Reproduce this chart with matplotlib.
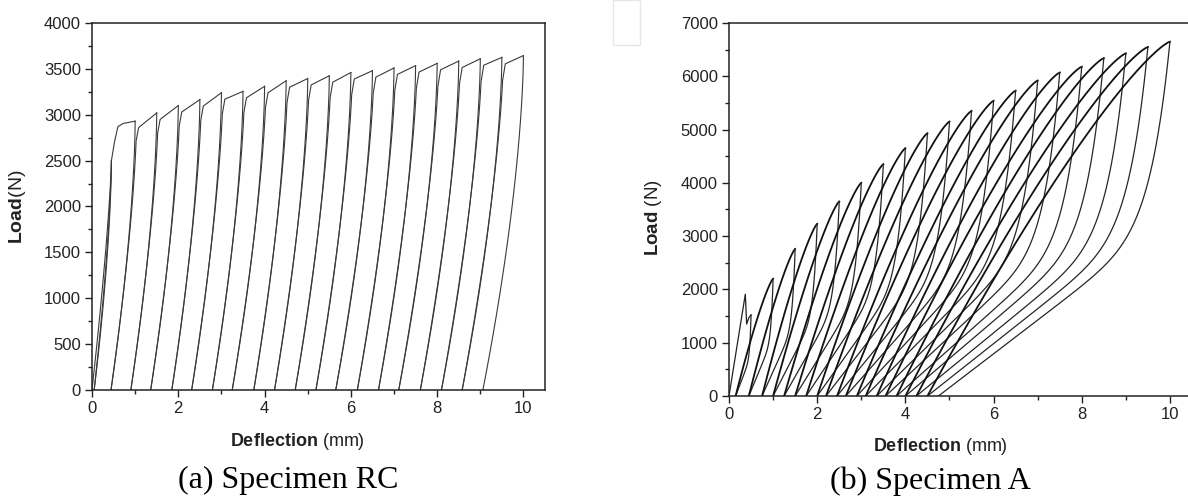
import numpy as np
import matplotlib
matplotlib.use('Agg')
import matplotlib.pyplot as plt
from matplotlib.ticker import MultipleLocator
from matplotlib.patches import Rectangle

plt.rcParams['font.family'] = ['Liberation Sans', 'DejaVu Sans']
plt.rcParams['mathtext.fontset'] = 'custom'
plt.rcParams['mathtext.rm'] = 'Liberation Sans'
plt.rcParams['mathtext.bf'] = 'Liberation Sans:bold'

# (a) Specimen RC: peak of every cycle and deflection left after unloading it
rc_peak_x = [0.45, 1.0, 1.5, 2.0, 2.5, 3.0, 3.5, 4.0, 4.5, 5.0,
             5.5, 6.0, 6.5, 7.0, 7.5, 8.0, 8.5, 9.0, 9.5, 10.0]
rc_peak_y = [2500, 2930, 3020, 3100, 3165, 3240, 3255, 3310, 3370, 3395,
             3425, 3460, 3480, 3510, 3535, 3560, 3585, 3610, 3625, 3645]
rc_resid_x = [0.05, 0.44, 0.90, 1.36, 1.85, 2.31, 2.79, 3.25, 3.75, 4.23,
              4.71, 5.19, 5.65, 6.15, 6.64, 7.11, 7.61, 8.10, 8.58, 9.06]
# yield knee between the first two peaks
rc_knee_x = [0.52, 0.60, 0.72]
rc_knee_y = [2700, 2870, 2905]

# (b) Specimen A
a_peak_x = [0.5, 1.0, 1.5, 2.0, 2.5, 3.0, 3.5, 4.0, 4.5, 5.0,
            5.5, 6.0, 6.5, 7.0, 7.5, 8.0, 8.5, 9.0, 9.5, 10.0]
a_peak_y = [1520, 2200, 2760, 3230, 3650, 4000, 4350, 4650, 4930, 5150,
            5350, 5540, 5730, 5920, 6070, 6180, 6340, 6430, 6550, 6650]
a_resid_x = [0.15, 0.45, 0.75, 1.0, 1.25, 1.5, 1.75, 2.0, 2.2, 2.45,
             2.65, 2.9, 3.1, 3.35, 3.55, 3.8, 4.0, 4.25, 4.5, 4.75]
# first loading with the early crack drop
a_first_x = [0.0, 0.37, 0.40, 0.45]
a_first_y = [0, 1910, 1350, 1470]

fig = plt.figure(figsize=(11.88, 4.98), dpi=100)


def style_axes(ax, ymax, ymajor):
    ax.set_xlim(0, 10.5)
    ax.set_ylim(0, ymax)
    ax.xaxis.set_major_locator(MultipleLocator(2))
    ax.xaxis.set_minor_locator(MultipleLocator(1))
    ax.yaxis.set_major_locator(MultipleLocator(ymajor))
    ax.yaxis.set_minor_locator(MultipleLocator(ymajor / 2))
    ax.tick_params(which='major', direction='out', length=5, width=1, labelsize=12,
                   colors='#222222', pad=3)
    ax.tick_params(which='minor', direction='out', length=3, width=1, colors='#222222')
    for sp in ax.spines.values():
        sp.set_linewidth(1.1)
        sp.set_color('#222222')


# ---- left panel
ax1 = fig.add_axes([92 / 1188, 108 / 498, 453 / 1188, 367 / 498])
style_axes(ax1, 4000, 500)
kw = dict(color='#3a3a3a', lw=0.8)
s = np.linspace(0, 1, 60)

ax1.plot(rc_peak_x[0] * (1 - (1 - s) ** 1.3), rc_peak_y[0] * s, **kw)
for i in range(len(rc_peak_x)):
    p, P, r = rc_peak_x[i], rc_peak_y[i], rc_resid_x[i]
    ax1.plot(p - (p - r) * (1 - s) ** 1.6, P * s, **kw)
    if i + 1 == len(rc_peak_x):
        break
    pn, Pn = rc_peak_x[i + 1], rc_peak_y[i + 1]
    if i == 0:
        xr = p - (p - r) * (1 - s) ** 1.45
        ax1.plot(np.r_[xr, rc_knee_x, pn], np.r_[P * s, rc_knee_y, Pn], **kw)
    else:
        xk, Pk = p + 0.03, P - 70
        ss = s[s <= 0.96]
        xr = xk - (xk - r) * (1 - ss) ** 1.45
        ax1.plot(np.r_[xr, xk + 0.05, pn], np.r_[Pk * ss, Pk, Pn], **kw)

fig.text(18 / 1188, 1 - 207 / 498, r'$\bf{Load}$(N)', rotation=90, ha='center', va='center',
         fontsize=14, color='#222222')
fig.text(297 / 1188, 1 - 441 / 498, r'$\bf{Deflection}$ (mm)', ha='center', va='center',
         fontsize=13, color='#222222')
fig.text(288 / 1188, 1 - 480 / 498, '(a) Specimen RC', ha='center', va='center',
         fontsize=23, family='Liberation Serif')

# ---- right panel
ax2 = fig.add_axes([729 / 1188, 102 / 498, 463 / 1188, 373 / 498])
style_axes(ax2, 7000, 1000)
ax2.spines['right'].set_visible(False)
t = np.linspace(0, 1, 120)

ax2.plot(a_first_x + [a_peak_x[0]], a_first_y + [a_peak_y[0]], color='#222222', lw=0.9)
for i in range(len(a_peak_x)):
    p, P, r = a_peak_x[i], a_peak_y[i], a_resid_x[i]
    # unloading: sharp drop off the peak, then a long flatter tail
    ax2.plot(r + t * (p - r), P * (0.5 * t + 0.5 * t ** 12), color='#262626', lw=0.9)
    if i + 1 == len(a_peak_x):
        break
    pn, Pn = a_peak_x[i + 1], a_peak_y[i + 1]
    ax2.plot(r + t * (pn - r), Pn * (1 - (1 - t) ** 1.25), color='#111111', lw=1.3)

fig.text(654 / 1188, 1 - 218 / 498, r'$\bf{Load}$ (N)', rotation=90, ha='center', va='center',
         fontsize=13.5, color='#222222')
fig.text(940 / 1188, 1 - 446 / 498, r'$\bf{Deflection}$ (mm)', ha='center', va='center',
         fontsize=13, color='#222222')
fig.text(930 / 1188, 1 - 481 / 498, '(b) Specimen A', ha='center', va='center',
         fontsize=23, family='Liberation Serif')

# faint box left over in the source image
fig.patches.append(Rectangle((613 / 1188, 1 - 45 / 498), 27 / 1188, 45 / 498,
                             transform=fig.transFigure, fill=False, ec='#e6e6e6', lw=1))

fig.savefig('out.png', dpi=100)
